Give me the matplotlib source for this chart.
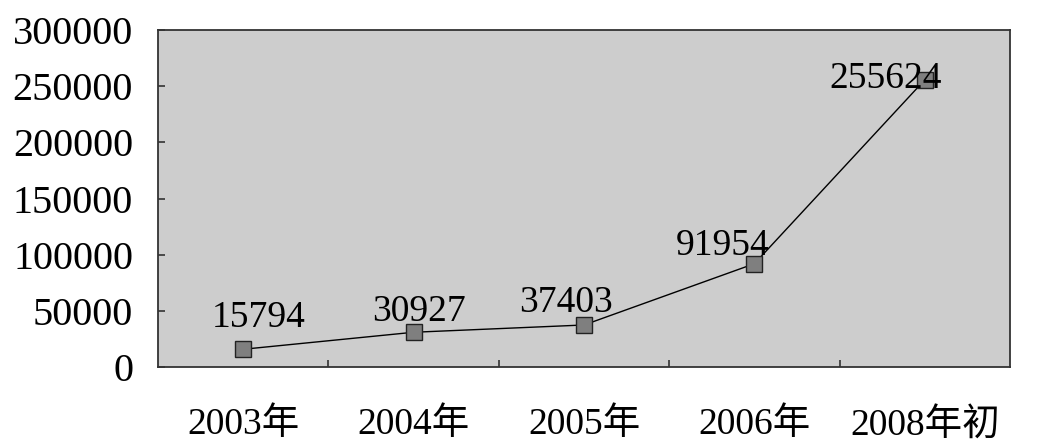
import matplotlib
matplotlib.use("Agg")
import matplotlib.pyplot as plt

# data
categories = ["2003年", "2004年", "2005年", "2006年", "2008年初"]
values = [15794, 30927, 37403, 91954, 255624]
yticks = [0, 50000, 100000, 150000, 200000, 250000, 300000]
# label offsets (points) relative to each marker, as in the picture
label_dx = [11, 4, -13, -23, -28]
label_dy = [23, 15, 16, 13, 1]

plt.rcParams['font.family'] = ['Liberation Serif', 'Noto Sans CJK SC']

fig = plt.figure(figsize=(10.41, 4.48), dpi=100)
ax = fig.add_axes([0.1518, 0.1808, 0.8184, 0.7522])
ax.set_facecolor("#cdcdcd")

x = list(range(1, len(categories) + 1))
ax.plot(x, values, color="black", linewidth=1.0, marker="s", markersize=11,
        markerfacecolor="#7f7f7f", markeredgecolor="#222222", markeredgewidth=1.0,
        zorder=3)

for xi, v, dx, dy in zip(x, values, label_dx, label_dy):
    ax.annotate(f"{v}", (xi, v), xytext=(dx, dy), textcoords="offset points",
                ha="center", va="center", fontsize=27, zorder=4)

ax.set_xlim(0.5, len(categories) + 0.5)
ax.set_ylim(0, 300000)
ax.set_yticks(yticks)
ax.set_yticklabels([str(t) for t in yticks], fontsize=29)
ax.set_xticks(x)
ax.set_xticklabels(categories, fontsize=27)
ax.set_xticks([1.5, 2.5, 3.5, 4.5], minor=True)

ax.tick_params(axis="y", direction="in", length=5, width=1.2, pad=18, color="#333333")
ax.tick_params(axis="x", which="major", length=0, pad=29)
ax.tick_params(axis="x", which="minor", direction="in", length=5, width=1.2, color="#333333")

for s in ax.spines.values():
    s.set_linewidth(1.3)
    s.set_color("#333333")

fig.savefig("out.png", dpi=100)
